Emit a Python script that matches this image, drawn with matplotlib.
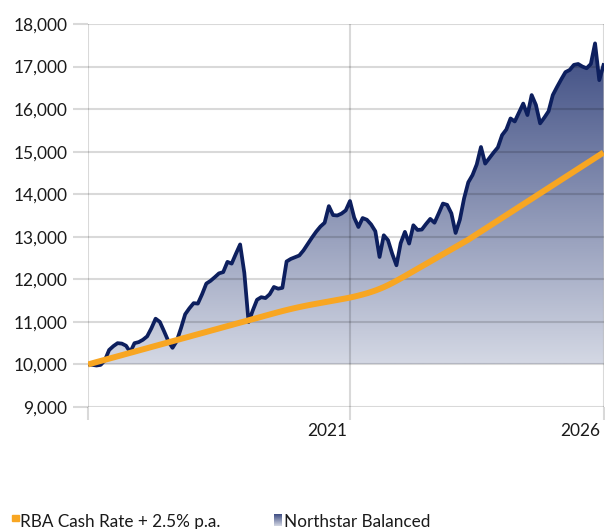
import numpy as np
import matplotlib
matplotlib.use("Agg")
import matplotlib.pyplot as plt
import matplotlib.transforms as mtransforms
from matplotlib.colors import LinearSegmentedColormap
from matplotlib.patches import Rectangle
from matplotlib.ticker import FuncFormatter

NAVY = "#0d1f5e"
ORANGE = "#f8a622"
GRID = (0, 0, 0, 0.15)
TEXT = "#1a1a1a"

# growth of $10,000, monthly points
northstar = [
    10000, 9990, 9975, 9990, 10100, 10340, 10430, 10500, 10490, 10440,
    10290, 10500, 10525, 10580, 10660, 10850, 11075, 11000, 10780, 10550,
    10390, 10550, 10850, 11180, 11320, 11440, 11430, 11650, 11900, 11965,
    12050, 12140, 12170, 12410, 12370, 12600, 12820, 12150, 10995, 11270,
    11520, 11580, 11560, 11650, 11820, 11780, 11800, 12420, 12480, 12520,
    12560, 12680, 12830, 12980, 13120, 13240, 13330, 13720, 13510, 13500,
    13545, 13620, 13840, 13450, 13230, 13440, 13400, 13290, 13130, 12525,
    13035, 12920, 12600, 12330, 12850, 13115, 12840, 13270, 13160, 13170,
    13300, 13420, 13330, 13550, 13780, 13750, 13550, 13090, 13400, 13900,
    14280, 14450, 14700, 15110, 14720, 14850, 14980, 15100, 15390, 15520,
    15780, 15710, 15920, 16130, 15860, 16330, 16100, 15665, 15800, 15950,
    16330, 16520, 16700, 16870, 16920, 17040, 17060, 17000, 16960, 17060,
    17545, 16680, 17035,
]

rba_plus = [
    10000, 10027, 10055, 10082, 10109, 10137, 10164, 10191, 10218, 10246,
    10273, 10300, 10328, 10355, 10382, 10410, 10437, 10464, 10491, 10519,
    10546, 10573, 10601, 10628, 10655, 10683, 10710, 10737, 10764, 10792,
    10819, 10846, 10874, 10901, 10928, 10956, 10983, 11010, 11037, 11065,
    11092, 11119, 11147, 11174, 11201, 11228, 11254, 11279, 11303, 11326,
    11348, 11369, 11389, 11408, 11426, 11444, 11462, 11480, 11498, 11516,
    11534, 11552, 11572, 11594, 11618, 11644, 11672, 11703, 11737, 11775,
    11817, 11863, 11913, 11966, 12021, 12077, 12134, 12191, 12248, 12305,
    12362, 12419, 12476, 12533, 12590, 12647, 12704, 12761, 12818, 12875,
    12932, 12996, 13060, 13124, 13188, 13252, 13316, 13380, 13444, 13508,
    13572, 13636, 13700, 13764, 13828, 13892, 13956, 14020, 14084, 14148,
    14212, 14276, 14340, 14404, 14468, 14532, 14596, 14660, 14724, 14788,
    14852, 14916, 14980,
]

year_ticks = [0, 62, 122]
year_labels = ["", "2021", "2026"]
value_ticks = [9000, 10000, 11000, 12000, 13000, 14000, 15000, 16000, 17000, 18000]
base_value = 10000

plt.rcParams['font.family'] = ['Lato', 'DejaVu Sans']

fig = plt.figure(figsize=(6.05, 5.29), dpi=100)
ax = fig.add_axes([88 / 605, 122 / 529, 515.5 / 605, 383 / 529])

months = np.arange(len(northstar))

# gradient area under the fund line
area = ax.fill_between(months, northstar, base_value, color='none', lw=0)
cmap = LinearSegmentedColormap.from_list('ns', ['#d4d8e4', '#3d4c82'])
grad = np.linspace(0, 1, 256).reshape(-1, 1)
img = ax.imshow(grad, cmap=cmap, aspect='auto', origin='lower',
                extent=[months[0], months[-1], base_value, max(northstar)], zorder=1)
img.set_clip_path(area.get_paths()[0], transform=ax.transData)

ax.plot(months, northstar, color=NAVY, lw=2.7, zorder=4, solid_joinstyle='round')
ax.plot(months, rba_plus, color=ORANGE, lw=4.3, zorder=5, solid_capstyle='butt')

ax.set_xlim(months[0], months[-1])
ax.set_ylim(9000, 18000)
ax.set_xticks(year_ticks)
ax.set_xticklabels(year_labels)
ax.set_yticks(value_ticks)
ax.yaxis.set_major_formatter(FuncFormatter(lambda v, p: f"{int(v):,}"))

ax.set_axisbelow(False)
ax.grid(True, color='black', alpha=0.15, lw=1.5)
for s in ax.spines.values():
    s.set_visible(False)

ax.tick_params(axis='y', length=10.5, width=1.5, color=GRID, pad=4.5,
               labelsize=12.5, labelcolor=TEXT)
ax.tick_params(axis='x', length=9.5, width=1.5, color=GRID, pad=2,
               labelsize=12.5, labelcolor=TEXT)

shift = mtransforms.ScaledTranslation(-3 / 100, 0, fig.dpi_scale_trans)
for lab in ax.get_xticklabels():
    lab.set_horizontalalignment('right')
    lab.set_transform(lab.get_transform() + shift)

# legend drawn by hand along the bottom edge
fig.patches.append(Rectangle((12 / 605, 8 / 529), 7 / 605, 6 / 529,
                             color=ORANGE, transform=fig.transFigure))
fig.text(20 / 605, 2 / 529, "RBA Cash Rate + 2.5% p.a.", fontsize=12.3,
         color=TEXT, va='baseline', ha='left')

lax = fig.add_axes([274 / 605, 3 / 529, 8 / 605, 12 / 529])
lax.imshow(grad, cmap=cmap, aspect='auto', origin='lower')
lax.axis('off')
fig.text(284 / 605, 2 / 529, "Northstar Balanced", fontsize=12.3,
         color=TEXT, va='baseline', ha='left')

fig.savefig("out.png", dpi=100)
